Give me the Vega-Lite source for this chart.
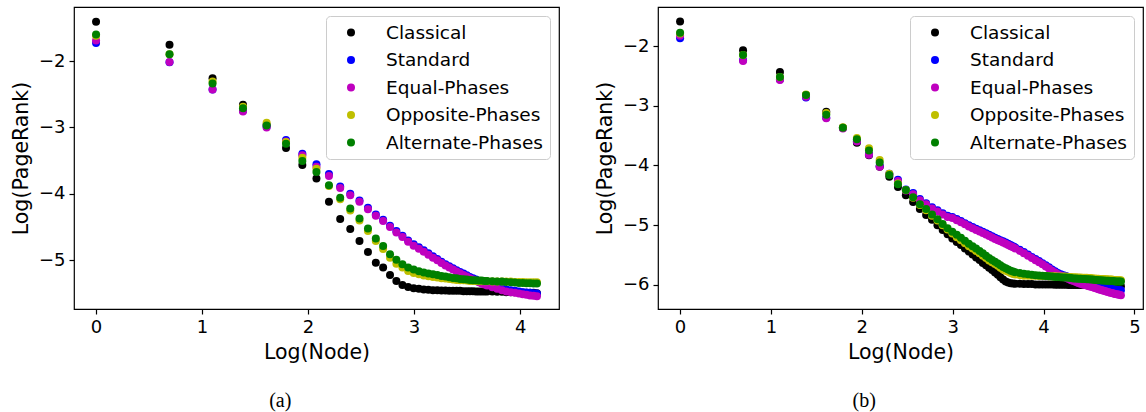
{
"$schema": "https://vega.github.io/schema/vega-lite/v6.json",
"padding": {"left": 10, "top": 6, "right": 0, "bottom": 0},
"datasets": {
"series": [{"k":"C","name":"Classical","rank":1},{"k":"S","name":"Standard","rank":2},{"k":"E","name":"Equal-Phases","rank":3},{"k":"O","name":"Opposite-Phases","rank":4},{"k":"A","name":"Alternate-Phases","rank":5}],
"pr": [
{"p":"a","x":0,"C":-1.41,"S":-1.73,"E":-1.69,"O":-1.62,"A":-1.6},
{"p":"a","x":0.693,"C":-1.755,"S":-2.02,"E":-2.015,"O":-1.9,"A":-1.9},
{"p":"a","x":1.099,"C":-2.26,"S":-2.43,"E":-2.43,"O":-2.31,"A":-2.34},
{"p":"a","x":1.386,"C":-2.66,"S":-2.75,"E":-2.76,"O":-2.69,"A":-2.71},
{"p":"a","x":1.609,"C":-2.96,"S":-2.99,"E":-3.0,"O":-2.93,"A":-2.97},
{"p":"a","x":1.792,"C":-3.31,"S":-3.19,"E":-3.21,"O":-3.22,"A":-3.245},
{"p":"a","x":1.946,"C":-3.565,"S":-3.395,"E":-3.42,"O":-3.455,"A":-3.505},
{"p":"a","x":2.079,"C":-3.77,"S":-3.555,"E":-3.59,"O":-3.62,"A":-3.67},
{"p":"a","x":2.197,"C":-4.12,"S":-3.7,"E":-3.73,"O":-3.88,"A":-3.87},
{"p":"a","x":2.303,"C":-4.38,"S":-3.89,"E":-3.91,"O":-4.08,"A":-4.06},
{"p":"a","x":2.398,"C":-4.53,"S":-4.0,"E":-4.02,"O":-4.25,"A":-4.22},
{"p":"a","x":2.485,"C":-4.71,"S":-4.1,"E":-4.12,"O":-4.4,"A":-4.37},
{"p":"a","x":2.565,"C":-4.875,"S":-4.21,"E":-4.23,"O":-4.56,"A":-4.52},
{"p":"a","x":2.639,"C":-5.035,"S":-4.31,"E":-4.33,"O":-4.71,"A":-4.67},
{"p":"a","x":2.708,"C":-5.11,"S":-4.39,"E":-4.41,"O":-4.83,"A":-4.785},
{"p":"a","x":2.773,"C":-5.22,"S":-4.48,"E":-4.5,"O":-4.96,"A":-4.91},
{"p":"a","x":2.833,"C":-5.31,"S":-4.56,"E":-4.58,"O":-5.05,"A":-4.99},
{"p":"a","x":2.89,"C":-5.37,"S":-4.63,"E":-4.65,"O":-5.11,"A":-5.06},
{"p":"a","x":2.944,"C":-5.4,"S":-4.7,"E":-4.72,"O":-5.16,"A":-5.11},
{"p":"a","x":2.996,"C":-5.42,"S":-4.76,"E":-4.78,"O":-5.19,"A":-5.14},
{"p":"a","x":3.045,"C":-5.43,"S":-4.805,"E":-4.825,"O":-5.21,"A":-5.165},
{"p":"a","x":3.091,"C":-5.44,"S":-4.85,"E":-4.87,"O":-5.23,"A":-5.185},
{"p":"a","x":3.135,"C":-5.445,"S":-4.895,"E":-4.915,"O":-5.24,"A":-5.2},
{"p":"a","x":3.178,"C":-5.45,"S":-4.94,"E":-4.96,"O":-5.25,"A":-5.21},
{"p":"a","x":3.219,"C":-5.45,"S":-4.98,"E":-5.0,"O":-5.26,"A":-5.22},
{"p":"a","x":3.258,"C":-5.455,"S":-5.02,"E":-5.04,"O":-5.27,"A":-5.235},
{"p":"a","x":3.296,"C":-5.455,"S":-5.06,"E":-5.08,"O":-5.275,"A":-5.245},
{"p":"a","x":3.332,"C":-5.46,"S":-5.09,"E":-5.11,"O":-5.28,"A":-5.255},
{"p":"a","x":3.367,"C":-5.46,"S":-5.12,"E":-5.14,"O":-5.29,"A":-5.265},
{"p":"a","x":3.401,"C":-5.46,"S":-5.15,"E":-5.17,"O":-5.295,"A":-5.27},
{"p":"a","x":3.434,"C":-5.46,"S":-5.175,"E":-5.195,"O":-5.3,"A":-5.28},
{"p":"a","x":3.466,"C":-5.465,"S":-5.2,"E":-5.22,"O":-5.3,"A":-5.285},
{"p":"a","x":3.497,"C":-5.465,"S":-5.225,"E":-5.245,"O":-5.305,"A":-5.29},
{"p":"a","x":3.526,"C":-5.465,"S":-5.25,"E":-5.27,"O":-5.31,"A":-5.295},
{"p":"a","x":3.555,"C":-5.465,"S":-5.27,"E":-5.29,"O":-5.31,"A":-5.3},
{"p":"a","x":3.584,"C":-5.47,"S":-5.29,"E":-5.31,"O":-5.31,"A":-5.3},
{"p":"a","x":3.611,"C":-5.47,"S":-5.31,"E":-5.33,"O":-5.315,"A":-5.305},
{"p":"a","x":3.638,"C":-5.47,"S":-5.33,"E":-5.35,"O":-5.315,"A":-5.305},
{"p":"a","x":3.664,"C":-5.47,"S":-5.345,"E":-5.365,"O":-5.315,"A":-5.31},
{"p":"a","x":3.689,"C":-5.47,"S":-5.36,"E":-5.38,"O":-5.315,"A":-5.31},
{"p":"a","x":3.738,"C":-5.47,"S":-5.38,"E":-5.405,"O":-5.32,"A":-5.315},
{"p":"a","x":3.784,"C":-5.475,"S":-5.4,"E":-5.43,"O":-5.32,"A":-5.32},
{"p":"a","x":3.829,"C":-5.475,"S":-5.42,"E":-5.45,"O":-5.32,"A":-5.32},
{"p":"a","x":3.871,"C":-5.48,"S":-5.44,"E":-5.47,"O":-5.32,"A":-5.325},
{"p":"a","x":3.912,"C":-5.48,"S":-5.45,"E":-5.48,"O":-5.32,"A":-5.33},
{"p":"a","x":3.951,"C":-5.48,"S":-5.46,"E":-5.49,"O":-5.325,"A":-5.335},
{"p":"a","x":3.989,"C":-5.485,"S":-5.47,"E":-5.5,"O":-5.325,"A":-5.34},
{"p":"a","x":4.025,"C":-5.485,"S":-5.48,"E":-5.51,"O":-5.325,"A":-5.34},
{"p":"a","x":4.06,"C":-5.49,"S":-5.485,"E":-5.52,"O":-5.33,"A":-5.345},
{"p":"a","x":4.094,"C":-5.49,"S":-5.49,"E":-5.53,"O":-5.33,"A":-5.345},
{"p":"a","x":4.127,"C":-5.49,"S":-5.495,"E":-5.535,"O":-5.33,"A":-5.35},
{"p":"a","x":4.159,"C":-5.495,"S":-5.5,"E":-5.54,"O":-5.33,"A":-5.35},
{"p":"b","x":0,"C":-1.59,"S":-1.87,"E":-1.83,"O":-1.79,"A":-1.78},
{"p":"b","x":0.693,"C":-2.07,"S":-2.24,"E":-2.25,"O":-2.15,"A":-2.15},
{"p":"b","x":1.099,"C":-2.435,"S":-2.56,"E":-2.57,"O":-2.52,"A":-2.52},
{"p":"b","x":1.386,"C":-2.82,"S":-2.86,"E":-2.85,"O":-2.81,"A":-2.82},
{"p":"b","x":1.609,"C":-3.1,"S":-3.2,"E":-3.21,"O":-3.12,"A":-3.15},
{"p":"b","x":1.792,"C":-3.37,"S":-3.37,"E":-3.38,"O":-3.36,"A":-3.37},
{"p":"b","x":1.946,"C":-3.62,"S":-3.59,"E":-3.6,"O":-3.54,"A":-3.56},
{"p":"b","x":2.079,"C":-3.83,"S":-3.81,"E":-3.82,"O":-3.71,"A":-3.75},
{"p":"b","x":2.197,"C":-4.02,"S":-4.01,"E":-4.02,"O":-3.91,"A":-3.95},
{"p":"b","x":2.303,"C":-4.19,"S":-4.14,"E":-4.15,"O":-4.14,"A":-4.16},
{"p":"b","x":2.398,"C":-4.36,"S":-4.24,"E":-4.26,"O":-4.3,"A":-4.315},
{"p":"b","x":2.485,"C":-4.5,"S":-4.4,"E":-4.42,"O":-4.41,"A":-4.41},
{"p":"b","x":2.565,"C":-4.61,"S":-4.46,"E":-4.48,"O":-4.54,"A":-4.53},
{"p":"b","x":2.639,"C":-4.73,"S":-4.56,"E":-4.58,"O":-4.66,"A":-4.65},
{"p":"b","x":2.708,"C":-4.83,"S":-4.63,"E":-4.65,"O":-4.75,"A":-4.73},
{"p":"b","x":2.773,"C":-4.91,"S":-4.7,"E":-4.72,"O":-4.84,"A":-4.82},
{"p":"b","x":2.833,"C":-5.0,"S":-4.75,"E":-4.77,"O":-4.92,"A":-4.9},
{"p":"b","x":2.89,"C":-5.08,"S":-4.8,"E":-4.82,"O":-5.0,"A":-4.98},
{"p":"b","x":2.944,"C":-5.15,"S":-4.84,"E":-4.86,"O":-5.07,"A":-5.05},
{"p":"b","x":2.996,"C":-5.22,"S":-4.86,"E":-4.88,"O":-5.14,"A":-5.11},
{"p":"b","x":3.045,"C":-5.28,"S":-4.895,"E":-4.915,"O":-5.2,"A":-5.16},
{"p":"b","x":3.091,"C":-5.33,"S":-4.93,"E":-4.95,"O":-5.25,"A":-5.21},
{"p":"b","x":3.135,"C":-5.39,"S":-4.965,"E":-4.985,"O":-5.3,"A":-5.26},
{"p":"b","x":3.178,"C":-5.44,"S":-5.0,"E":-5.02,"O":-5.35,"A":-5.31},
{"p":"b","x":3.219,"C":-5.49,"S":-5.03,"E":-5.05,"O":-5.39,"A":-5.35},
{"p":"b","x":3.258,"C":-5.54,"S":-5.06,"E":-5.08,"O":-5.43,"A":-5.39},
{"p":"b","x":3.296,"C":-5.58,"S":-5.085,"E":-5.105,"O":-5.47,"A":-5.43},
{"p":"b","x":3.332,"C":-5.63,"S":-5.11,"E":-5.13,"O":-5.51,"A":-5.47},
{"p":"b","x":3.367,"C":-5.67,"S":-5.135,"E":-5.155,"O":-5.55,"A":-5.51},
{"p":"b","x":3.401,"C":-5.71,"S":-5.16,"E":-5.18,"O":-5.59,"A":-5.55},
{"p":"b","x":3.434,"C":-5.75,"S":-5.185,"E":-5.205,"O":-5.62,"A":-5.58},
{"p":"b","x":3.466,"C":-5.79,"S":-5.21,"E":-5.23,"O":-5.65,"A":-5.61},
{"p":"b","x":3.497,"C":-5.83,"S":-5.23,"E":-5.25,"O":-5.68,"A":-5.64},
{"p":"b","x":3.526,"C":-5.87,"S":-5.25,"E":-5.27,"O":-5.71,"A":-5.67},
{"p":"b","x":3.555,"C":-5.91,"S":-5.27,"E":-5.29,"O":-5.74,"A":-5.7},
{"p":"b","x":3.584,"C":-5.94,"S":-5.29,"E":-5.31,"O":-5.76,"A":-5.72},
{"p":"b","x":3.611,"C":-5.96,"S":-5.31,"E":-5.33,"O":-5.78,"A":-5.74},
{"p":"b","x":3.638,"C":-5.97,"S":-5.33,"E":-5.35,"O":-5.8,"A":-5.76},
{"p":"b","x":3.664,"C":-5.975,"S":-5.35,"E":-5.37,"O":-5.815,"A":-5.775},
{"p":"b","x":3.689,"C":-5.98,"S":-5.37,"E":-5.39,"O":-5.825,"A":-5.785},
{"p":"b","x":3.738,"C":-5.98,"S":-5.41,"E":-5.43,"O":-5.835,"A":-5.8},
{"p":"b","x":3.784,"C":-5.985,"S":-5.45,"E":-5.47,"O":-5.845,"A":-5.81},
{"p":"b","x":3.829,"C":-5.985,"S":-5.49,"E":-5.51,"O":-5.845,"A":-5.82},
{"p":"b","x":3.871,"C":-5.985,"S":-5.53,"E":-5.55,"O":-5.845,"A":-5.83},
{"p":"b","x":3.912,"C":-5.99,"S":-5.565,"E":-5.585,"O":-5.845,"A":-5.835},
{"p":"b","x":3.951,"C":-5.99,"S":-5.6,"E":-5.62,"O":-5.85,"A":-5.84},
{"p":"b","x":3.989,"C":-5.99,"S":-5.635,"E":-5.655,"O":-5.85,"A":-5.845},
{"p":"b","x":4.025,"C":-5.99,"S":-5.67,"E":-5.69,"O":-5.85,"A":-5.85},
{"p":"b","x":4.06,"C":-5.99,"S":-5.705,"E":-5.725,"O":-5.855,"A":-5.855},
{"p":"b","x":4.094,"C":-5.99,"S":-5.74,"E":-5.76,"O":-5.855,"A":-5.86},
{"p":"b","x":4.127,"C":-5.995,"S":-5.77,"E":-5.79,"O":-5.855,"A":-5.865},
{"p":"b","x":4.159,"C":-5.995,"S":-5.8,"E":-5.82,"O":-5.86,"A":-5.865},
{"p":"b","x":4.19,"C":-5.995,"S":-5.82,"E":-5.84,"O":-5.86,"A":-5.87},
{"p":"b","x":4.22,"C":-5.995,"S":-5.835,"E":-5.86,"O":-5.86,"A":-5.875},
{"p":"b","x":4.248,"C":-5.995,"S":-5.85,"E":-5.88,"O":-5.86,"A":-5.875},
{"p":"b","x":4.277,"C":-6.0,"S":-5.865,"E":-5.9,"O":-5.865,"A":-5.88},
{"p":"b","x":4.304,"C":-6.0,"S":-5.88,"E":-5.92,"O":-5.865,"A":-5.885},
{"p":"b","x":4.331,"C":-6.0,"S":-5.89,"E":-5.935,"O":-5.87,"A":-5.89},
{"p":"b","x":4.357,"C":-6.0,"S":-5.905,"E":-5.95,"O":-5.87,"A":-5.89},
{"p":"b","x":4.382,"C":-6.0,"S":-5.915,"E":-5.965,"O":-5.875,"A":-5.895},
{"p":"b","x":4.407,"C":-6.0,"S":-5.925,"E":-5.978,"O":-5.875,"A":-5.895},
{"p":"b","x":4.431,"C":-6.0,"S":-5.935,"E":-5.99,"O":-5.88,"A":-5.9},
{"p":"b","x":4.454,"C":-6.0,"S":-5.945,"E":-6.0,"O":-5.88,"A":-5.9},
{"p":"b","x":4.477,"C":-6.005,"S":-5.955,"E":-6.01,"O":-5.88,"A":-5.905},
{"p":"b","x":4.5,"C":-6.005,"S":-5.965,"E":-6.02,"O":-5.885,"A":-5.905},
{"p":"b","x":4.522,"C":-6.005,"S":-5.975,"E":-6.03,"O":-5.885,"A":-5.91},
{"p":"b","x":4.543,"C":-6.005,"S":-5.985,"E":-6.04,"O":-5.89,"A":-5.91},
{"p":"b","x":4.564,"C":-6.005,"S":-5.99,"E":-6.05,"O":-5.89,"A":-5.915},
{"p":"b","x":4.585,"C":-6.005,"S":-6.0,"E":-6.06,"O":-5.895,"A":-5.915},
{"p":"b","x":4.605,"C":-6.005,"S":-6.005,"E":-6.07,"O":-5.895,"A":-5.92},
{"p":"b","x":4.625,"C":-6.01,"S":-6.015,"E":-6.08,"O":-5.9,"A":-5.92},
{"p":"b","x":4.644,"C":-6.01,"S":-6.02,"E":-6.09,"O":-5.9,"A":-5.925},
{"p":"b","x":4.663,"C":-6.01,"S":-6.03,"E":-6.098,"O":-5.9,"A":-5.925},
{"p":"b","x":4.682,"C":-6.01,"S":-6.035,"E":-6.105,"O":-5.905,"A":-5.93},
{"p":"b","x":4.7,"C":-6.01,"S":-6.045,"E":-6.113,"O":-5.905,"A":-5.93},
{"p":"b","x":4.718,"C":-6.01,"S":-6.05,"E":-6.12,"O":-5.91,"A":-5.93},
{"p":"b","x":4.736,"C":-6.01,"S":-6.055,"E":-6.128,"O":-5.91,"A":-5.935},
{"p":"b","x":4.754,"C":-6.01,"S":-6.06,"E":-6.135,"O":-5.91,"A":-5.935},
{"p":"b","x":4.771,"C":-6.015,"S":-6.07,"E":-6.143,"O":-5.915,"A":-5.935},
{"p":"b","x":4.787,"C":-6.015,"S":-6.075,"E":-6.15,"O":-5.915,"A":-5.94},
{"p":"b","x":4.804,"C":-6.015,"S":-6.08,"E":-6.155,"O":-5.915,"A":-5.94},
{"p":"b","x":4.82,"C":-6.015,"S":-6.085,"E":-6.16,"O":-5.92,"A":-5.94},
{"p":"b","x":4.836,"C":-6.015,"S":-6.09,"E":-6.165,"O":-5.92,"A":-5.94},
{"p":"b","x":4.852,"C":-6.02,"S":-6.09,"E":-6.17,"O":-5.92,"A":-5.94}
]
},
"data": {"name": "pr"},
"spacing": 34,
"resolve": {"scale": {"color": "independent", "x": "independent", "y": "independent"}, "legend": {"color": "independent"}},
"hconcat": [
{
"width": 485, "height": 302,
"title": {"text": "(a)", "orient": "bottom", "frame": "bounds", "anchor": "middle", "font": "Liberation Serif", "fontSize": 20, "fontWeight": "normal", "color": "black", "dx": -5, "offset": 28},
"transform": [
{"filter": "datum.p === 'a'"},
{"fold": ["C", "S", "E", "O", "A"], "as": ["k", "y"]},
{"lookup": "k", "from": {"data": {"name": "series"}, "key": "k", "fields": ["name", "rank"]}}
],
"mark": {"type": "circle", "size": 64, "opacity": 1},
"encoding": {
"x": {"field": "x", "type": "quantitative", "scale": {"domain": [-0.208, 4.367], "nice": false, "zero": false}, "axis": {"values": [0, 1, 2, 3, 4], "title": "Log(Node)"}},
"y": {"field": "y", "type": "quantitative", "scale": {"domain": [-5.733, -1.187], "nice": false, "zero": false}, "axis": {"values": [-5, -4, -3, -2], "title": "Log(PageRank)"}},
"color": {"field": "name", "type": "nominal", "scale": {"domain": ["Classical", "Standard", "Equal-Phases", "Opposite-Phases", "Alternate-Phases"], "range": ["#000000", "#0000ff", "#bf00bf", "#bfbf00", "#008000"]}, "legend": {"title": null}},
"order": {"field": "rank", "type": "quantitative"}
}
},
{
"width": 485, "height": 302,
"title": {"text": "(b)", "orient": "bottom", "frame": "bounds", "anchor": "middle", "font": "Liberation Serif", "fontSize": 20, "fontWeight": "normal", "color": "black", "dx": -5, "offset": 28},
"transform": [
{"filter": "datum.p === 'b'"},
{"fold": ["C", "S", "E", "O", "A"], "as": ["k", "y"]},
{"lookup": "k", "from": {"data": {"name": "series"}, "key": "k", "fields": ["name", "rank"]}}
],
"mark": {"type": "circle", "size": 64, "opacity": 1},
"encoding": {
"x": {"field": "x", "type": "quantitative", "scale": {"domain": [-0.243, 5.095], "nice": false, "zero": false}, "axis": {"values": [0, 1, 2, 3, 4, 5], "title": "Log(Node)"}},
"y": {"field": "y", "type": "quantitative", "scale": {"domain": [-6.402, -1.347], "nice": false, "zero": false}, "axis": {"values": [-6, -5, -4, -3, -2], "title": "Log(PageRank)"}},
"color": {"field": "name", "type": "nominal", "scale": {"domain": ["Classical", "Standard", "Equal-Phases", "Opposite-Phases", "Alternate-Phases"], "range": ["#000000", "#0000ff", "#bf00bf", "#bfbf00", "#008000"]}, "legend": {"title": null}},
"order": {"field": "rank", "type": "quantitative"}
}
}
],
"config": {
"font": "DejaVu Sans",
"view": {"stroke": "#000000", "strokeWidth": 1.2},
"axis": {"grid": false, "domain": false, "tickColor": "#000000", "tickSize": 5, "tickWidth": 1.2, "labelFont": "DejaVu Sans", "labelFontSize": 18, "labelColor": "#000000", "labelPadding": 4, "titleFont": "DejaVu Sans", "titleFontSize": 20.5, "titleFontWeight": "normal", "titleColor": "#000000"},
"axisX": {"titleY": 49, "titleBaseline": "alphabetic"},
"axisY": {"titlePadding": 7},
"legend": {"orient": "top-right", "offset": 9, "labelFont": "DejaVu Sans", "labelFontSize": 18.5, "labelColor": "#000000", "symbolType": "circle", "symbolSize": 64, "symbolOpacity": 1, "symbolStrokeWidth": 28, "symbolStrokeColor": "transparent", "clipHeight": 19, "strokeColor": "#cccccc", "fillColor": "#ffffff", "cornerRadius": 4, "padding": 7, "rowPadding": 8.5, "symbolOffset": 0, "labelOffset": 17, "labelLimit": 400}
}
}
